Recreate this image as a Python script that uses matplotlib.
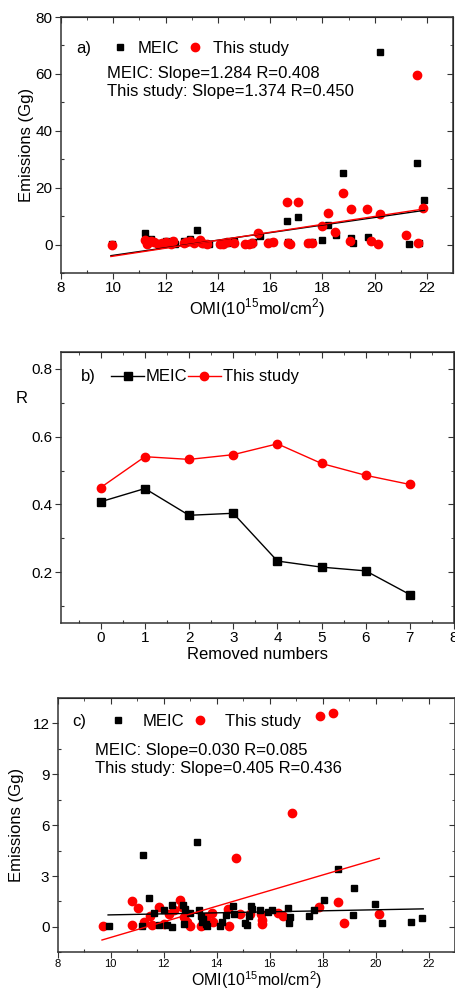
import numpy as np
import matplotlib
matplotlib.use("Agg")
import matplotlib.pyplot as plt
from matplotlib.lines import Line2D
from matplotlib.ticker import MultipleLocator

plt.rcParams['font.family'] = ['Liberation Sans', 'DejaVu Sans']
plt.rcParams['mathtext.fontset'] = 'custom'
plt.rcParams['mathtext.rm'] = 'Liberation Sans'

# ---- panel a: all points ----
a_x_meic = [9.95, 11.2, 11.3, 11.45, 11.7, 11.9, 12.0, 12.3, 12.35, 12.7, 12.85, 12.95, 13.2, 13.35, 13.5,
            13.65, 14.1, 14.2, 14.35, 14.6, 15.1, 15.25, 15.35, 15.6, 15.95, 16.1, 16.65, 16.7, 17.05, 17.45,
            17.6, 17.97, 18.2, 18.5, 18.8, 19.1, 19.15, 19.75, 20.2, 21.3, 21.6, 21.7, 21.9]
a_y_meic = [0.1, 4.2, 0.5, 1.8, 0.4, 0.6, 1.1, 1.3, 0.3, 1.2, 0.8, 1.9, 5.0, 1.0, 0.3,
            0.2, 0.1, 0.3, 0.6, 1.1, 0.3, 0.2, 0.8, 2.9, 0.9, 1.0, 8.3, 0.8, 9.7, 0.7,
            1.0, 1.7, 7.0, 3.4, 25.0, 2.4, 0.6, 2.7, 67.8, 0.3, 28.6, 0.5, 15.6]
a_x_this = [9.95, 11.2, 11.3, 11.45, 11.55, 11.7, 11.85, 12.0, 12.2, 12.3, 12.7, 12.8, 12.95, 13.1, 13.3,
            13.4, 13.6, 14.1, 14.2, 14.35, 14.6, 15.05, 15.2, 15.3, 15.55, 15.9, 16.1, 16.65, 16.7, 16.75,
            17.05, 17.45, 17.6, 17.97, 18.2, 18.48, 18.8, 19.05, 19.1, 19.7, 19.85, 20.14, 20.2, 21.2, 21.6,
            21.65, 21.86]
a_y_this = [0.0, 1.5, 0.3, 1.2, 0.8, 0.2, 0.6, 1.0, 0.3, 1.1, 0.4, 0.9, 1.4, 0.7, 1.6,
            0.6, 0.2, 0.1, 0.3, 0.8, 0.5, 0.2, 0.1, 0.6, 4.1, 0.7, 0.8, 14.8, 0.6, 0.2,
            14.9, 0.6, 0.7, 6.6, 11.2, 4.3, 18.3, 1.2, 12.4, 12.5, 1.3, 0.1, 10.6, 3.2, 59.7,
            0.6, 13.0]
# fitted lines (slope, intercept) and x range
a_fit_meic = (1.33, -17.08)
a_fit_this = (1.397, -18.04)
a_fit_x = (9.91, 21.9)

# ---- panel b: R vs removed numbers ----
removed = [0, 1, 2, 3, 4, 5, 6, 7]
r_meic = [0.408, 0.447, 0.368, 0.374, 0.233, 0.215, 0.204, 0.134]
r_this = [0.450, 0.541, 0.533, 0.547, 0.579, 0.521, 0.486, 0.459]

# ---- panel c: after removing outliers ----
c_x_meic = [9.92, 11.18, 11.2, 11.43, 11.65, 11.81, 12.0, 12.13, 12.32, 12.32, 12.73, 12.76, 12.82, 12.98,
            13.24, 13.35, 13.39, 13.43, 13.5, 13.58, 13.64, 14.12, 14.19, 14.34, 14.63, 14.65, 15.07, 15.16,
            15.22, 15.28, 15.35, 15.64, 15.92, 16.1, 16.7, 16.77, 16.73, 17.47, 17.66, 18.04, 18.57, 19.2,
            19.16, 19.98, 20.24, 21.32, 21.76]
c_y_meic = [0.04, 0.06, 4.25, 1.7, 0.81, 0.1, 0.97, 0.1, 1.3, 0.0, 1.3, 0.15, 1.06, 0.81,
            5.03, 0.97, 0.62, 0.29, 0.48, 0.15, 0.04, 0.06, 0.29, 0.68, 1.22, 0.77, 0.25, 0.1,
            0.62, 1.22, 1.06, 0.97, 0.87, 1.0, 1.12, 0.58, 0.23, 0.64, 0.97, 1.61, 3.42, 2.32,
            0.68, 1.35, 0.23, 0.29, 0.54]
c_x_this = [9.7, 10.8, 10.8, 11.02, 11.24, 11.5, 11.57, 11.81, 12.0, 12.19, 12.38, 12.6, 12.7, 12.76,
            12.89, 12.98, 13.39, 13.58, 13.83, 13.85, 14.46, 14.44, 14.72, 14.88, 15.26, 15.69, 15.73, 15.7,
            16.32, 16.52, 16.86, 17.87, 18.59, 18.79, 20.12, 17.9, 18.4]
c_y_this = [0.06, 1.55, 0.1, 1.12, 0.29, 0.62, 0.1, 1.16, 0.15, 0.77, 0.97, 1.58, 1.16, 0.58,
            0.29, 0.06, 0.06, 0.58, 0.81, 0.29, 0.04, 1.06, 4.06, 0.77, 0.77, 0.77, 0.42, 0.15,
            0.81, 0.62, 6.73, 1.16, 1.45, 0.23, 0.74, 12.44, 12.64]
c_fit_meic = (0.030, 0.41)
c_fit_x_meic = (9.9, 21.8)
c_fit_this = (0.46, -5.22)
c_fit_x_this = (9.67, 20.14)

spine_col = '#333333'


def style_axes(ax, xmaj, xmin, ymaj, ymin, xsize=11, ysize=11, xpad=2):
    ax.xaxis.set_major_locator(MultipleLocator(xmaj))
    ax.xaxis.set_minor_locator(MultipleLocator(xmin))
    ax.yaxis.set_major_locator(MultipleLocator(ymaj))
    ax.yaxis.set_minor_locator(MultipleLocator(ymin))
    ax.tick_params(which='major', direction='out', length=4, width=0.8, colors=spine_col, pad=2)
    ax.tick_params(which='minor', direction='in', length=2.5, width=0.8, colors=spine_col)
    ax.tick_params(axis='x', labelsize=xsize, labelcolor='black', pad=xpad)
    ax.tick_params(axis='y', labelsize=ysize, labelcolor='black')
    for s in ax.spines.values():
        s.set_color(spine_col)
        s.set_linewidth(1.1)
    top = ax.secondary_xaxis('top')
    top.xaxis.set_major_locator(MultipleLocator(xmaj))
    top.xaxis.set_minor_locator(MultipleLocator(xmin))
    top.tick_params(which='both', direction='in', labeltop=False, colors=spine_col)
    top.tick_params(which='major', length=4)
    top.tick_params(which='minor', length=2.5)
    right = ax.secondary_yaxis('right')
    right.yaxis.set_major_locator(MultipleLocator(ymaj))
    right.yaxis.set_minor_locator(MultipleLocator(ymin))
    right.tick_params(which='both', direction='in', labelright=False, colors=spine_col)
    right.tick_params(which='major', length=4)
    right.tick_params(which='minor', length=2.5)


fig = plt.figure(figsize=(4.55, 9.91), dpi=100)

omi_label = r'OMI(10$^{15}$mol/cm$^{2}$)'
fs = 12

# ----- a -----
ax1 = fig.add_axes([0.134, 0.7245, 0.862, 0.2583])
ax1.plot(a_x_meic, a_y_meic, 's', color='black', ms=5, zorder=3)
ax1.plot(a_x_this, a_y_this, 'o', color='red', ms=6, zorder=3)
xf = np.array(a_fit_x)
ax1.plot(xf, a_fit_meic[0] * xf + a_fit_meic[1], color='black', lw=1.0, zorder=4)
ax1.plot(xf, a_fit_this[0] * xf + a_fit_this[1], color='red', lw=1.0, zorder=4)
ax1.set_xlim(8, 23)
ax1.set_ylim(-10, 80)
style_axes(ax1, 2, 1, 20, 10)
ax1.set_xticks([8, 10, 12, 14, 16, 18, 20, 22])
ax1.set_xlabel(omi_label, fontsize=fs, labelpad=1)
ax1.set_ylabel('Emissions (Gg)', fontsize=fs, labelpad=1)
ax1.text(0.04, 0.879, 'a)', transform=ax1.transAxes, fontsize=fs, va='center')
h1 = [Line2D([], [], ls='none', marker='s', color='black', ms=5),
      Line2D([], [], ls='none', marker='o', color='red', ms=6)]
ax1.legend(h1, ['MEIC', 'This study'], ncol=2, frameon=False, fontsize=fs,
           loc='center left', bbox_to_anchor=(0.12, 0.879), handlelength=0.6,
           handletextpad=0.8, columnspacing=0.6, borderaxespad=0)
ax1.text(0.118, 0.781, 'MEIC: Slope=1.284 R=0.408', transform=ax1.transAxes, fontsize=fs, va='center')
ax1.text(0.118, 0.711, 'This study: Slope=1.374 R=0.450', transform=ax1.transAxes, fontsize=fs, va='center')

# ----- b -----
ax2 = fig.add_axes([0.134, 0.3713, 0.864, 0.2735])
ax2.plot(removed, r_meic, '-s', color='black', ms=5.5, lw=1.0)
ax2.plot(removed, r_this, '-o', color='red', ms=6, lw=1.0)
ax2.set_xlim(-0.9, 8)
ax2.set_ylim(0.05, 0.85)
style_axes(ax2, 1, 0.5, 0.2, 0.1)
ax2.set_xlabel('Removed numbers', fontsize=fs, labelpad=1)
ax2.set_ylabel('R', fontsize=fs, rotation=0)
ax2.yaxis.set_label_coords(-0.1, 0.8)
ax2.text(0.05, 0.908, 'b)', transform=ax2.transAxes, fontsize=fs, va='center')
h2 = [Line2D([], [], marker='s', color='black', ms=5.5, lw=1.0),
      Line2D([], [], marker='o', color='red', ms=6, lw=1.0)]
ax2.legend(h2, ['MEIC', 'This study'], ncol=2, frameon=False, fontsize=fs,
           loc='center left', bbox_to_anchor=(0.11, 0.908), handlelength=2.0,
           handletextpad=0.1, columnspacing=0.0, borderaxespad=0)

# ----- c -----
ax3 = fig.add_axes([0.127, 0.039, 0.873, 0.2567])
ax3.plot(c_x_meic, c_y_meic, 's', color='black', ms=5, zorder=3)
ax3.plot(c_x_this, c_y_this, 'o', color='red', ms=6, zorder=2)
xm = np.array(c_fit_x_meic)
xt = np.array(c_fit_x_this)
ax3.plot(xm, c_fit_meic[0] * xm + c_fit_meic[1], color='black', lw=1.0, zorder=4)
ax3.plot(xt, c_fit_this[0] * xt + c_fit_this[1], color='red', lw=1.0, zorder=4)
ax3.set_xlim(8, 23)
ax3.set_ylim(-1.5, 13.5)
style_axes(ax3, 2, 1, 3, 1.5, xsize=8, ysize=11, xpad=1)
ax3.set_xticks([8, 10, 12, 14, 16, 18, 20, 22])
ax3.set_xlabel(omi_label, fontsize=11.5, labelpad=0)
ax3.set_ylabel('Emissions (Gg)', fontsize=fs, labelpad=6)
ax3.text(0.036, 0.908, 'c)', transform=ax3.transAxes, fontsize=fs, va='center')
ax3.legend(h1, ['MEIC', 'This study'], ncol=2, frameon=False, fontsize=fs,
           loc='center left', bbox_to_anchor=(0.122, 0.908), handlelength=0.6,
           handletextpad=1.2, columnspacing=0.6, borderaxespad=0)
ax3.text(0.094, 0.792, 'MEIC: Slope=0.030 R=0.085', transform=ax3.transAxes, fontsize=fs, va='center')
ax3.text(0.094, 0.721, 'This study: Slope=0.405 R=0.436', transform=ax3.transAxes, fontsize=fs, va='center')

fig.savefig('out.png', dpi=100)
